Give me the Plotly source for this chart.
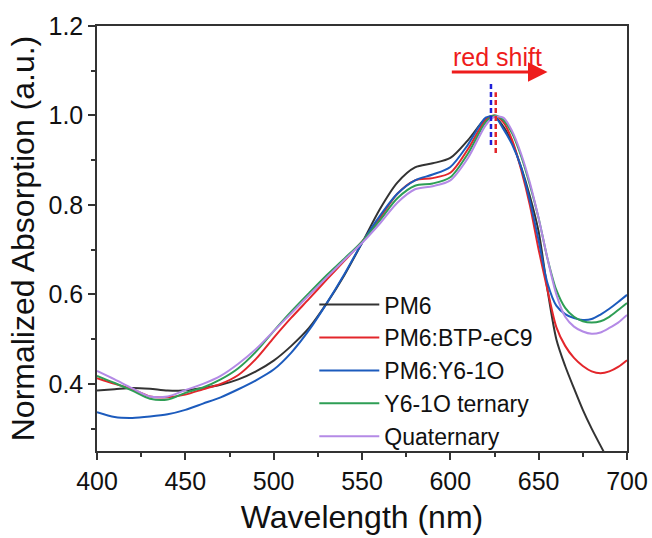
import plotly.graph_objects as go

wavelength = [400, 410, 420, 430, 440, 450, 460, 470, 480, 490, 500, 510, 520, 530, 540,
              550, 560, 570, 580, 590, 600, 610, 620, 625, 630, 635, 640, 645, 650, 655,
              660, 665, 670, 675, 680, 685, 690, 695, 700]

pm6 = [0.385, 0.388, 0.391, 0.389, 0.385, 0.386, 0.391, 0.398, 0.410, 0.428, 0.452, 0.485, 0.525, 0.580, 0.643,
       0.715, 0.790, 0.850, 0.884, 0.893, 0.905, 0.945, 0.993, 0.998, 0.975, 0.940, 0.885, 0.820, 0.740, 0.610,
       0.500, 0.440, 0.390, 0.342, 0.300, 0.262, 0.225, 0.190, 0.160]

pm6_btp = [0.413, 0.400, 0.388, 0.372, 0.370, 0.376, 0.388, 0.400, 0.420, 0.456, 0.503, 0.548, 0.590, 0.633, 0.675,
           0.718, 0.770, 0.825, 0.855, 0.860, 0.872, 0.925, 0.990, 1.000, 0.985, 0.945, 0.880, 0.800, 0.700, 0.610,
           0.527, 0.485, 0.458, 0.440, 0.428, 0.424, 0.428, 0.438, 0.453]

pm6_y6 = [0.337, 0.326, 0.324, 0.327, 0.332, 0.342, 0.356, 0.370, 0.388, 0.408, 0.432, 0.470, 0.520, 0.580, 0.645,
          0.715, 0.775, 0.825, 0.855, 0.868, 0.885, 0.935, 0.995, 0.998, 0.970, 0.935, 0.885, 0.810, 0.720, 0.625,
          0.575, 0.556, 0.547, 0.543, 0.545, 0.555, 0.568, 0.583, 0.599]

ternary = [0.418, 0.402, 0.385, 0.367, 0.365, 0.380, 0.392, 0.410, 0.435, 0.472, 0.518, 0.562, 0.603, 0.643, 0.680,
           0.718, 0.765, 0.815, 0.843, 0.848, 0.862, 0.915, 0.985, 1.000, 0.990, 0.960, 0.910, 0.845, 0.770, 0.680,
           0.610, 0.570, 0.550, 0.540, 0.537, 0.540, 0.550, 0.565, 0.581]

quaternary = [0.429, 0.410, 0.390, 0.372, 0.372, 0.386, 0.400, 0.418, 0.445, 0.478, 0.518, 0.558, 0.598, 0.638, 0.677,
              0.715, 0.758, 0.805, 0.835, 0.842, 0.855, 0.905, 0.978, 0.997, 0.995, 0.965, 0.915, 0.850, 0.770, 0.680,
              0.600, 0.550, 0.528, 0.517, 0.512, 0.515, 0.525, 0.537, 0.554]

series_names = ["PM6", "PM6:BTP-eC9", "PM6:Y6-1O", "Y6-1O ternary", "Quaternary"]
series_values = [pm6, pm6_btp, pm6_y6, ternary, quaternary]
colors = ["#333333", "#e3262b", "#1c5bbd", "#2e9e55", "#b48ae6"]

# peak markers (dashed lines): wavelength, y start, y end, color
peak_lines = [(623.0, 0.934, 1.073, "#1f1fd8"), (625.7, 0.916, 1.052, "#e3262b")]
shift_arrow = {"x0": 600, "x1": 655, "y": 1.097}
shift_label = {"x": 626.5, "y": 1.131, "text": "red shift"}

FONT = "Liberation Sans, Arial"

fig = go.Figure()
for name, vals, col in zip(series_names, series_values, colors):
    fig.add_trace(go.Scatter(x=wavelength, y=vals, mode="lines", name=name,
                             line=dict(color=col, width=2, shape="spline", smoothing=0.8)))

for wx, y0, y1, col in peak_lines:
    fig.add_shape(type="line", xref="x", yref="y", x0=wx, x1=wx, y0=y0, y1=y1,
                  line=dict(color=col, width=2.5, dash="5px,3px"))

fig.add_annotation(x=shift_arrow["x1"], y=shift_arrow["y"], ax=shift_arrow["x0"], ay=shift_arrow["y"],
                   xref="x", yref="y", axref="x", ayref="y", showarrow=True, text="",
                   arrowhead=2, arrowsize=1.3, arrowwidth=3, arrowcolor="#ee1c1c")
fig.add_annotation(x=shift_label["x"], y=shift_label["y"], xref="x", yref="y", showarrow=False,
                   text=shift_label["text"], font=dict(family=FONT, size=25, color="#ee1c1c"))

axis_common = dict(showline=True, linecolor="#333333", linewidth=1.5, mirror=True,
                   ticks="outside", ticklen=7, tickwidth=1.5, tickcolor="#333333",
                   showgrid=False, zeroline=False, automargin=False,
                   tickfont=dict(family=FONT, size=25, color="#111111"))

fig.update_xaxes(range=[400, 700], tick0=400, dtick=50,
                 minor=dict(ticks="outside", ticklen=4, dtick=25, tickcolor="#333333", tickwidth=1.5),
                 title=dict(text="Wavelength (nm)", font=dict(family=FONT, size=32, color="#111111"),
                            standoff=12),
                 **axis_common)
fig.update_yaxes(range=[0.25, 1.2], tick0=0, dtick=0.2, tickformat=".1f",
                 minor=dict(ticks="outside", ticklen=4, dtick=0.1, tickcolor="#333333", tickwidth=1.5),
                 title=dict(text="Normalized Absorption (a.u.)",
                            font=dict(family=FONT, size=32, color="#111111"), standoff=4),
                 **axis_common)

fig.update_layout(width=652, height=538, margin=dict(l=97, r=25, t=26, b=87),
                  plot_bgcolor="white", paper_bgcolor="white",
                  legend=dict(x=0.41, y=0.395, xanchor="left", yanchor="top",
                              font=dict(family=FONT, size=23, color="#111111"),
                              bgcolor="rgba(0,0,0,0)", itemwidth=60, tracegroupgap=0))

fig.write_html("out.html")
